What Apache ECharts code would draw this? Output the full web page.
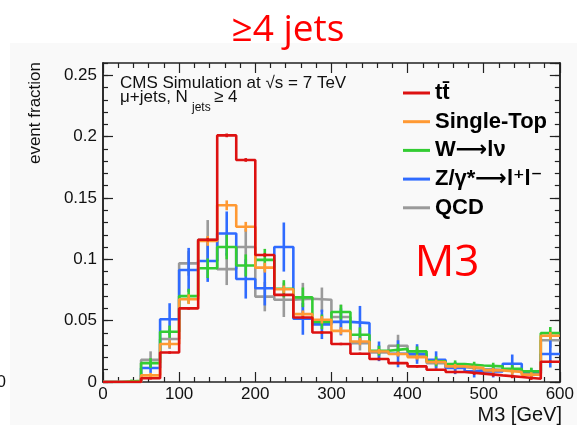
<!DOCTYPE html>
<html>
<head>
<meta charset="utf-8">
<title>M3 ≥4 jets</title>
<script src="https://cdn.jsdelivr.net/npm/echarts@6/dist/echarts.min.js"></script>
<style>
html,body{margin:0;padding:0;background:#fff;}
#chart{width:577px;height:425px;}
</style>
</head>
<body>
<div id="chart"></div>
<script>
// bin edges in GeV (24 bins of 25 GeV)
var binEdges = [0,25,50,75,100,125,150,175,200,225,250,275,300,325,350,375,400,425,450,475,500,525,550,575,600];
var xTicks = [0,100,200,300,400,500,600];

var seriesNames = ['tt\u0304', 'Single-Top', 'W\u27f6l\u03bd', 'Z/\u03b3*\u27f6l\u207al\u207b', 'QCD'];

var ttbar    = [0,0,0.003,0.024,0.060,0.116,0.201,0.181,0.1035,0.071,0.0526,0.0404,0.031,0.023,0.0187,0.0154,0.0127,0.010,0.0081,0.0068,0.0054,0.0041,0.0027,0.0165];
var ttbarErr = [0,0,0.001,0.001,0.001,0.0015,0.0015,0.0015,0.0015,0.001,0.001,0.001,0.001,0.001,0.001,0.001,0.001,0.001,0.001,0.001,0.001,0.001,0.001,0.001];

var singleTop    = [0,0,0.0054,0.031,0.0675,0.115,0.144,0.1265,0.0932,0.0756,0.0553,0.0507,0.0417,0.033,0.0249,0.0228,0.0203,0.0163,0.0127,0.0114,0.0095,0.0081,0.006,0.0377];
var singleTopErr = [0,0,0.002,0.003,0.004,0.004,0.004,0.004,0.004,0.003,0.003,0.003,0.003,0.003,0.002,0.002,0.002,0.002,0.002,0.002,0.002,0.002,0.002,0.003];

var wjets    = [0,0.001,0.0154,0.041,0.070,0.0927,0.110,0.095,0.0995,0.076,0.069,0.049,0.057,0.0385,0.0255,0.027,0.025,0.0168,0.0146,0.0135,0.0127,0.0108,0.0087,0.0398];
var wjetsErr = [0,0.001,0.004,0.005,0.006,0.008,0.010,0.009,0.009,0.007,0.008,0.006,0.006,0.006,0.004,0.004,0.004,0.004,0.003,0.003,0.003,0.003,0.003,0.005];

var zjets    = [0,0,0.0114,0.0512,0.0913,0.0986,0.121,0.084,0.0764,0.110,0.0515,0.047,0.049,0.048,0.025,0.023,0.0228,0.018,0.0114,0.0087,0.0087,0.0149,0.0073,0.0228];
var zjetsErr = [0,0,0.004,0.013,0.018,0.017,0.018,0.016,0.014,0.020,0.013,0.012,0.011,0.014,0.008,0.011,0.008,0.007,0.005,0.005,0.005,0.0075,0.004,0.011];

var qcd    = [0,0,0.018,0.035,0.0967,0.116,0.092,0.110,0.0696,0.067,0.0678,0.067,0.053,0.0317,0.024,0.0295,0.022,0.0154,0.012,0.0106,0.010,0.0095,0.0065,0.034];
var qcdErr = [0,0,0.007,0.008,0.010,0.016,0.013,0.015,0.012,0.014,0.013,0.010,0.010,0.006,0.006,0.009,0.005,0.004,0.004,0.004,0.004,0.004,0.003,0.006];

var colors = ['#dd1111', '#ff9933', '#33cc33', '#2f6bff', '#9a9a9a'];

var font = 'Liberation Sans, Arial, DejaVu Sans, sans-serif';
var axisColor = '#222';

function stepData(vals) {
	var d = [];
	for (var i = 0; i < vals.length; i++) d.push([binEdges[i], vals[i]]);
	d.push([binEdges[vals.length], vals[vals.length - 1]]);
	return d;
}

function histSeries(name, vals, color, z) {
	return {
		name: name, type: 'line', step: 'end', data: stepData(vals),
		showSymbol: false, symbol: 'none', z: z, silent: true,
		itemStyle: {color: color},
		lineStyle: {color: color, width: 2.6}
	};
}

function errSeries(vals, errs, color, z) {
	var d = [];
	for (var i = 0; i < vals.length; i++) {
		if (vals[i] > 0) d.push([(binEdges[i] + binEdges[i + 1]) / 2, vals[i] - errs[i], vals[i] + errs[i]]);
	}
	return {
		type: 'custom', data: d, z: z, silent: true,
		encode: {x: 0, y: [1, 2]},
		renderItem: function (params, api) {
			var p1 = api.coord([api.value(0), api.value(1)]);
			var p2 = api.coord([api.value(0), api.value(2)]);
			return {type: 'line', shape: {x1: p1[0], y1: p1[1], x2: p2[0], y2: p2[1]},
				style: {stroke: color, lineWidth: 2.6}};
		}
	};
}

function xAx(pos, labels) {
	return {
		type: 'value', position: pos, min: xTicks[0], max: xTicks[xTicks.length - 1], interval: 100,
		axisLine: {show: true, onZero: false, lineStyle: {color: axisColor, width: 1.5}},
		axisTick: {show: true, inside: true, length: 10, lineStyle: {color: axisColor, width: 1.2}},
		minorTick: {show: true, splitNumber: 5, length: 5, lineStyle: {color: axisColor, width: 1.2}},
		axisLabel: {show: labels, fontFamily: font, fontSize: 17, color: '#111', margin: 4},
		splitLine: {show: false}
	};
}

function yAx(pos, interval, tickLen, labels) {
	return {
		type: 'value', position: pos, min: 0, max: 0.26, interval: interval,
		axisLine: {show: true, onZero: false, lineStyle: {color: axisColor, width: 1.5}},
		axisTick: {show: true, inside: true, length: tickLen, lineStyle: {color: axisColor, width: 1.2}},
		axisLabel: {show: labels, showMaxLabel: false, fontFamily: font, fontSize: 17, color: '#111', margin: 6},
		splitLine: {show: false}
	};
}

var chart = echarts.init(document.getElementById('chart'));

chart.setOption({
	animation: false,
	backgroundColor: '#ffffff',
	grid: {left: 103, top: 63, width: 460, height: 319},
	xAxis: [xAx('bottom', true), xAx('top', false)],
	yAxis: [yAx('left', 0.05, 10, true), yAx('left', 0.01, 5, false), yAx('right', 0.05, 10, false), yAx('right', 0.01, 5, false)],
	legend: {
		orient: 'vertical', left: 398, top: 77, itemWidth: 27, itemHeight: 3, itemGap: 6.7,
		icon: 'rect', selectedMode: false,
		textStyle: {fontFamily: font, fontSize: 22, fontWeight: 'bold', color: '#000', lineHeight: 22},
		data: seriesNames
	},
	graphic: [
		{type: 'rect', z: -100, silent: true, shape: {x: 10, y: 43, width: 567, height: 382}, style: {fill: '#f9f9f9'}},
		{type: 'text', x: 288, y: 30, style: {text: '\u22654 jets', fill: '#ff0000', font: '37px Open Sans, ' + font, textAlign: 'center', textVerticalAlign: 'middle'}},
		{type: 'text', x: 447, y: 263, style: {text: 'M3', fill: '#ff0000', font: '44px Open Sans, ' + font, textAlign: 'center', textVerticalAlign: 'middle'}},
		{type: 'text', x: 120, y: 83, style: {text: 'CMS Simulation at \u221as = 7 TeV', fill: '#111', font: '17px ' + font, textAlign: 'left', textVerticalAlign: 'middle'}},
		{type: 'text', x: 120, y: 97, style: {text: '\u03bc+jets, N', fill: '#111', font: '17px ' + font, textAlign: 'left', textVerticalAlign: 'middle'}},
		{type: 'text', x: 192, y: 108, style: {text: 'jets', fill: '#111', font: '12px ' + font, textAlign: 'left', textVerticalAlign: 'middle'}},
		{type: 'text', x: 214, y: 97, style: {text: '\u2265 4', fill: '#111', font: '17px ' + font, textAlign: 'left', textVerticalAlign: 'middle'}},
		{type: 'text', x: 35, y: 62, rotation: Math.PI / 2, style: {text: 'event fraction', fill: '#111', font: '17px ' + font, textAlign: 'right', textVerticalAlign: 'middle'}},
		{type: 'text', x: 562, y: 415, style: {text: 'M3 [GeV]', fill: '#111', font: '20px ' + font, textAlign: 'right', textVerticalAlign: 'middle'}},
		{type: 'text', x: 6, y: 382, style: {text: '0', fill: '#111', font: '17px ' + font, textAlign: 'right', textVerticalAlign: 'middle'}}
	],
	series: [
		histSeries(seriesNames[4], qcd, colors[4], 2),
		errSeries(qcd, qcdErr, colors[4], 2),
		histSeries(seriesNames[3], zjets, colors[3], 3),
		errSeries(zjets, zjetsErr, colors[3], 3),
		histSeries(seriesNames[2], wjets, colors[2], 4),
		errSeries(wjets, wjetsErr, colors[2], 4),
		histSeries(seriesNames[1], singleTop, colors[1], 5),
		errSeries(singleTop, singleTopErr, colors[1], 5),
		histSeries(seriesNames[0], ttbar, colors[0], 6),
		errSeries(ttbar, ttbarErr, colors[0], 6)
	]
});
</script>
</body>
</html>
